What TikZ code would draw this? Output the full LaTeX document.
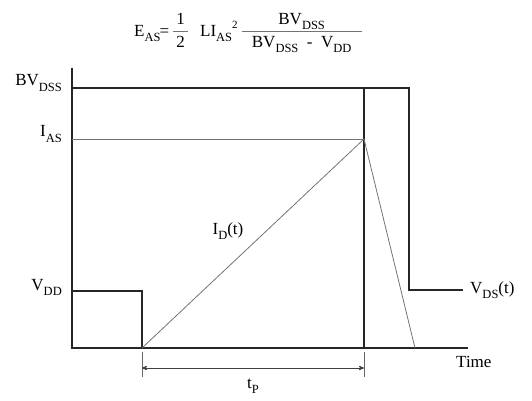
\documentclass[tikz,border=0pt]{standalone}
\usepackage{fontspec}
\usepackage{colortbl}
\setmainfont{Liberation Serif}
\usetikzlibrary{positioning,arrows}
\tikzset{x=1pt,y=-1pt,
ax/.style={line width=1.4pt,black!85},
wave/.style={line width=1.3pt,black!85},
trace/.style={line width=0.8pt,black!55},
ext/.style={line width=0.7pt,black!60},
dim/.style={<->,>=stealth',line width=0.8pt,black!75},
el/.style={font=\fontsize{17}{20}\selectfont,inner sep=1pt},
eq/.style={font=\fontsize{17}{20}\selectfont,inner sep=0pt},
}
\newcommand{\rmsub}[2]{#1\raisebox{-0.3em}{\fontsize{12.5}{12.5}\selectfont #2}}
\newcommand{\ffrac}[3]{{\setlength{\arrayrulewidth}{1.2pt}\arrayrulecolor{black!55}%
	\begin{tabular}{@{}c@{}}\makebox[#1]{#2}\\\hline\rule{0pt}{15pt}#3\end{tabular}}}

\begin{document}
\begin{tikzpicture}
	\useasboundingbox (0,0) rectangle (532,401);

	% axes
	\coordinate (o) at (72,348);
	\coordinate (top) at (72,68);
	\coordinate (xend) at (468,348);
	\draw[ax] (top) -- (o) -- (xend);

	% V_DS(t)
	\coordinate (vdd) at (72,291);
	\coordinate (vddr) at (142,291);
	\coordinate (t0) at (142,348);
	\coordinate (bv) at (72,88);
	\coordinate (bvm) at (364,88);
	\coordinate (bvr) at (409,88);
	\coordinate (t1) at (364,348);
	\coordinate (vdsl) at (409,290);
	\coordinate (vdsr) at (463,290);
	\draw[wave] (vdd) -- (vddr) -- (t0);
	\draw[wave] (bv) -- (bvm) -- (bvr) -- (vdsl) -- (vdsr);
	\draw[wave] (bvm) -- (t1);

	% I_D(t)
	\coordinate (ias) at (72,139);
	\coordinate (peak) at (364,139);
	\coordinate (t2) at (415,348);
	\draw[trace] (ias) -- (peak);
	\draw[trace] (t0) -- (peak) -- (t2);

	% t_p
	\coordinate (e0) at (142,352);
	\coordinate (e0b) at (142,377);
	\coordinate (e1) at (364,352);
	\coordinate (e1b) at (364,377);
	\coordinate (d0) at (142,368);
	\coordinate (d1) at (364,368);
	\draw[ext] (e0) -- (e0b);
	\draw[ext] (e1) -- (e1b);
	\draw[dim] (d0) -- (d1);

	% labels
	\node[el,left=9pt of bv,yshift=5pt] (lbv) {\rmsub{BV}{DSS}};
	\node[el,left=9pt of ias,yshift=5pt] (lias) {\rmsub{I}{AS}};
	\node[el,left=9pt of vdd,yshift=4pt] (lvdd) {\rmsub{V}{DD}};
	\node[el,right=6pt of vdsr] (lvds) {\rmsub{V}{DS}(t)};
	\node[el,anchor=west] (ltime) at (455,362) {Time};
	\node[el] (ltp) at (253,386) {\rmsub{t}{P}};
	\node[el] (lid) at (228,231) {\rmsub{I}{D}(t)};
	\node[eq,anchor=west] (formula) at (134,32)
		{\rmsub{E}{AS}\hspace{-1pt}=\hspace{4pt}\ffrac{15pt}{1}{2}\hspace{12pt}L\rmsub{I}{AS}\raisebox{0.45em}{\fontsize{11}{11}\selectfont 2}\hspace{4pt}\ffrac{120pt}{\rmsub{BV}{DSS}}{\rmsub{BV}{DSS}\ \ -\ \ \rmsub{V}{DD}}};
\end{tikzpicture}
\end{document}
